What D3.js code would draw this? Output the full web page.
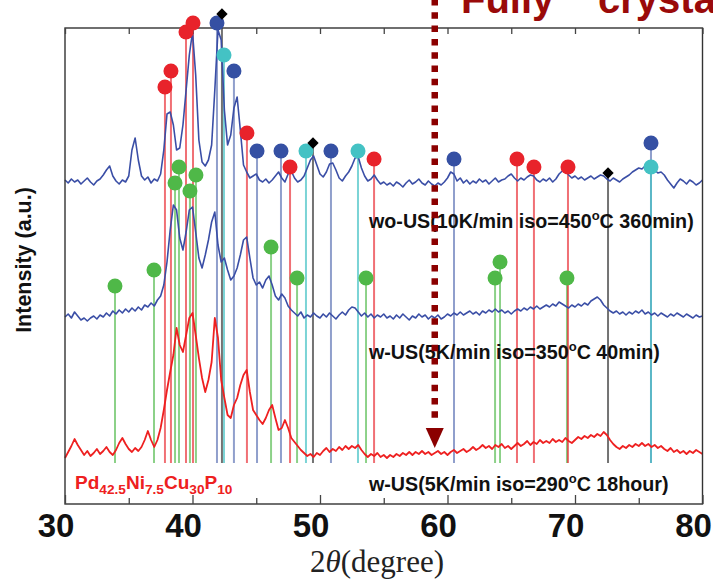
<!DOCTYPE html>
<html><head><meta charset="utf-8">
<script src="https://cdn.jsdelivr.net/npm/d3@7"></script>
<style>html,body{margin:0;padding:0;background:#fff;overflow:hidden}</style>
</head><body>
<svg id="chart" width="713" height="585"></svg>
<script>
// ---------- DATA ----------
// 2θ grid: 30° .. 80° every 0.25°
const theta = d3.range(0, 201).map(i => 30 + i * 0.25);

// wo-US (10K/min iso=450°C 360min) – stacked intensity (a.u.)
const woUS450 = [324,321,325,322,324,320,323,326,322,319,323,325,329,334,338,328,323,320,324,322,
328,354,366,344,328,324,327,321,325,323,330,354,390,392,379,354,356,379,414,449,
472,429,364,342,338,344,359,414,474,464,394,359,369,396,407,374,339,332,326,328,
330,324,322,325,321,324,328,332,326,322,330,333,326,322,324,328,336,344,348,339,
330,327,332,340,341,334,326,323,328,332,338,346,347,336,328,323,325,329,324,320,
322,319,321,318,322,320,317,321,324,320,322,325,321,319,323,320,318,321,319,322,
326,332,330,323,326,321,324,320,323,321,325,322,324,320,323,326,322,324,325,328,
330,326,323,326,324,327,329,328,324,322,325,323,326,322,325,330,333,334,329,326,
328,325,327,324,326,328,325,327,329,328,325,323,326,324,322,325,327,329,332,334,
336,335,338,336,333,334,331,332,329,324,320,316,321,325,323,320,324,322,319,321,324];

// w-US (5K/min iso=350°C 40min)
const wUS350 = [187,190,186,192,188,184,186,183,186,188,185,189,187,191,188,193,190,194,191,195,
192,196,193,197,194,199,197,201,198,204,208,219,242,274,299,294,266,254,272,294,
297,272,246,236,249,264,282,292,259,242,246,234,224,228,236,249,264,267,246,226,
219,222,216,224,228,219,208,204,210,206,198,194,191,188,192,186,189,187,191,188,
186,190,187,191,188,185,189,192,189,194,197,196,192,188,191,187,190,186,189,187,
190,186,188,185,189,186,190,187,184,188,186,190,187,189,185,188,186,189,185,187,
190,188,191,189,192,189,191,193,190,192,189,193,191,194,192,195,192,194,191,193,
190,193,195,193,196,194,197,195,198,195,197,199,197,200,198,202,200,198,196,199,
197,200,198,201,199,203,205,207,204,199,196,193,191,193,190,192,189,192,190,193,
191,194,190,192,189,191,188,191,189,187,190,188,191,189,187,190,188,186,189,187,188];

// w-US (5K/min iso=290°C 18hour)
const wUS290 = [46,52,58,65,59,54,49,53,48,51,55,50,53,57,52,49,54,61,66,60,
55,52,56,53,57,64,73,64,57,64,76,94,114,132,149,176,159,152,169,186,
191,169,146,126,112,124,142,186,166,124,106,89,86,99,106,119,129,134,112,94,
89,84,80,86,94,99,86,74,76,84,76,66,62,58,54,51,48,50,47,51,
49,53,56,52,55,53,57,54,58,55,58,56,59,54,50,47,50,48,51,47,
49,46,49,47,50,48,51,49,52,49,52,50,53,50,52,49,51,53,50,52,
49,52,54,51,53,55,52,54,57,54,56,59,56,58,55,59,57,60,56,58,
55,58,61,58,60,63,59,62,60,64,61,63,61,65,62,64,62,66,63,61,
64,67,65,68,66,69,67,70,68,72,69,64,60,57,55,58,56,59,57,60,
58,61,58,60,57,59,56,58,55,53,56,52,54,51,53,50,53,51,54,52,50];

// reference peak positions (2θ) and marker heights (a.u.)
const redPeaks   = [[37.84,417],[38.31,433],[39.49,472],[40.04,481],[44.27,371],[47.65,337],[54.24,345],[65.45,345],[66.78,337],[69.45,337]];
const bluePeaks  = [[41.92,481],[43.25,433],[45.06,353],[46.94,353],[50.86,353],[60.51,345],[75.96,361]];
const cyanPeaks  = [[42.47,449],[48.90,353],[52.98,353],[75.96,337]];
const blackPeaks = [[42.31,490],[49.45,361],[72.59,331]];
const greenPeaks = [[38.63,321],[38.94,337],[39.80,313],[40.27,329],[33.92,218],[36.98,234],[46.16,257],[48.20,226],[53.61,226],[63.73,226],[64.12,242],[69.37,226]];
const stemBottom = 41;

const xTicksMajor = [30,40,50,60,70,80];
const xTicksMinor = [35,45,55,65,75];
const arrowTheta = 59.0;

// ---------- LAYOUT ----------
const svg = d3.select("#chart");
const L = 65, R = 702.5, T = 28, B = 504;
const x = d3.scaleLinear().domain([30, 80]).range([L, R]);
const y = d3.scaleLinear().domain([0, 476]).range([B, T]);

const C = {red:"#e8232b", blue:"#3550a3", cyan:"#44c2c4", green:"#4fb848", black:"#000",
           curveBlue:"#3a4ea6", curveRed:"#ee2020", dark:"#8b0000"};

// stems
const stemGroups = [
  {pts: greenPeaks, col: C.green, op: 0.65},
  {pts: redPeaks, col: C.red, op: 0.65},
  {pts: bluePeaks, col: C.blue, op: 0.55},
  {pts: cyanPeaks, col: C.cyan, op: 0.7},
  {pts: blackPeaks, col: "#444", op: 0.75}
];
stemGroups.forEach(g => {
  svg.append("g").selectAll("line").data(g.pts).join("line")
    .attr("x1", d => x(d[0])).attr("x2", d => x(d[0]))
    .attr("y1", d => y(d[1])).attr("y2", y(stemBottom))
    .attr("stroke", g.col).attr("stroke-opacity", g.op).attr("stroke-width", 2);
});

// curves
const line = d3.line().x((d, i) => x(theta[i])).y(d => y(d));
svg.append("path").datum(woUS450).attr("d", line).attr("fill","none").attr("stroke",C.curveBlue).attr("stroke-width",1.6).attr("stroke-linejoin","round");
svg.append("path").datum(wUS350).attr("d", line).attr("fill","none").attr("stroke",C.curveBlue).attr("stroke-width",1.6).attr("stroke-linejoin","round");
svg.append("path").datum(wUS290).attr("d", line).attr("fill","none").attr("stroke",C.curveRed).attr("stroke-width",1.8).attr("stroke-linejoin","round");

// frame & ticks
svg.append("rect").attr("x",L).attr("y",T).attr("width",R-L).attr("height",B-T)
  .attr("fill","none").attr("stroke","#333").attr("stroke-width",1.4);
const axB = d3.axisBottom(x).tickValues(xTicksMajor).tickSize(-9).tickFormat("");
const axBm = d3.axisBottom(x).tickValues(xTicksMinor).tickSize(-6).tickFormat("");
const axT = d3.axisTop(x).tickValues(xTicksMajor.concat(xTicksMinor)).tickSize(-6).tickFormat("");
[ [axB,B],[axBm,B],[axT,T] ].forEach(([a,yy]) => {
  const g = svg.append("g").attr("transform",`translate(0,${yy})`).call(a);
  g.select(".domain").remove();
  g.selectAll("line").attr("stroke","#444").attr("stroke-width",1.3);
});
svg.append("g").selectAll("text").data(xTicksMajor).join("text")
  .attr("x", d => x(d) - 9).attr("y", 537).attr("text-anchor","middle")
  .attr("font-family","Liberation Sans, Arial, sans-serif").attr("font-weight","bold")
  .attr("font-size",33).attr("fill","#111").text(d => d);

// axis titles
svg.append("text").attr("transform","translate(31,260) rotate(-90)").attr("text-anchor","middle")
  .attr("font-family","Liberation Sans, Arial, sans-serif").attr("font-weight","bold").attr("font-size",21.5)
  .attr("fill","#111").text("Intensity (a.u.)");
const xt = svg.append("text").attr("x",377).attr("y",572).attr("text-anchor","middle")
  .attr("font-family","Liberation Serif, 'DejaVu Serif', serif").attr("font-size",31).attr("fill","#222");
xt.append("tspan").text("2");
xt.append("tspan").attr("font-style","italic").text("θ");
xt.append("tspan").text("(degree)");

// markers
function circles(pts, col) {
  svg.append("g").selectAll("circle").data(pts).join("circle")
    .attr("cx", d => x(d[0])).attr("cy", d => y(d[1])).attr("r", 7.5).attr("fill", col);
}
circles(greenPeaks, C.green);
circles(redPeaks, C.red);
circles(bluePeaks, C.blue);
circles(cyanPeaks, C.cyan);
svg.append("g").selectAll("path").data(blackPeaks).join("path")
  .attr("transform", d => `translate(${x(d[0])},${y(d[1])}) rotate(45)`)
  .attr("d", d3.symbol(d3.symbolSquare, 64)).attr("fill", C.black);

// curve labels
function label(yy, lead, temp, tail) {
  const t = svg.append("text").attr("x",369).attr("y",yy)
    .attr("font-family","Liberation Sans, Arial, sans-serif").attr("font-weight","bold")
    .attr("font-size",19.7).attr("fill","#111");
  t.append("tspan").text(lead + temp);
  t.append("tspan").attr("dy",-8).attr("font-size",13).text("o");
  t.append("tspan").attr("dy",8).text(tail);
}
label(228, "wo-US(10K/min iso=", "450", "C 360min)");
label(359, "w-US(5K/min iso=", "350", "C 40min)");
label(491, "w-US(5K/min iso=", "290", "C 18hour)");

// alloy label
const al = svg.append("text").attr("x",75).attr("y",489)
  .attr("font-family","Liberation Sans, Arial, sans-serif").attr("font-weight","bold")
  .attr("font-size",19).attr("fill",C.curveRed);
[["Pd",0],["42.5",1],["Ni",0],["7.5",1],["Cu",0],["30",1],["P",0],["10",1]].forEach(([s,sub],i,arr) => {
  const prevSub = i>0 ? arr[i-1][1] : 0;
  const dy = sub && !prevSub ? 5 : (!sub && prevSub ? -5 : 0);
  al.append("tspan").attr("dy",dy).attr("font-size", sub ? 13.7 : 19).text(s);
});

// dotted arrow
const ax0 = x(arrowTheta);
svg.append("line").attr("x1",ax0).attr("x2",ax0).attr("y1",-1).attr("y2",424)
  .attr("stroke",C.dark).attr("stroke-width",6.5).attr("stroke-dasharray","6.5,6.8");
svg.append("path").attr("d",`M${ax0-9},428L${ax0+9},428L${ax0},448Z`).attr("fill",C.dark);

// title (cut off at top)
const tt = svg.append("text").attr("y",13)
  .attr("font-family","Liberation Sans, Arial, sans-serif").attr("font-weight","bold")
  .attr("font-size",40).attr("fill","#9a0a0a");
tt.append("tspan").attr("x",461).text("Fully");
tt.append("tspan").attr("x",598).text("crystallized");
</script>
</body></html>
